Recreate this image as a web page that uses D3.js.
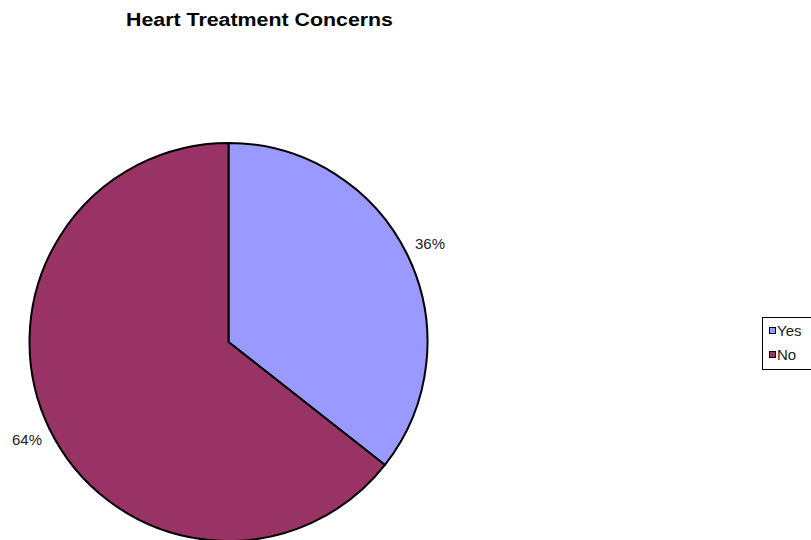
<!DOCTYPE html>
<html><head><meta charset="utf-8">
<script src="https://cdn.jsdelivr.net/npm/d3@7"></script>
<style>body{margin:0;background:#fff;}svg{display:block;font-family:"Liberation Sans",Arial,sans-serif;}</style>
</head><body>
<svg id="chart" width="811" height="540"></svg>
<script>
const title = "Heart Treatment Concerns";
const categories = ["Yes", "No"];
const values = [35.6, 64.4];
const colors = ["#9999FF", "#993366"];

const svg = d3.select("#chart");
const cx = 228.5, cy = 342, r = 199, labelR = 224;

svg.append("text").attr("x", 126).attr("y", 26)
  .attr("font-size", 18).attr("font-weight", "bold")
  .attr("textLength", 267).attr("lengthAdjust", "spacingAndGlyphs").text(title);

const data = categories.map((c, i) => ({cat: c, value: values[i], color: colors[i]}));
const pie = d3.pie().value(d => d.value).sort(null);
const arcs = pie(data);
const total = d3.sum(values);
const arc = d3.arc().innerRadius(0).outerRadius(r);
const labelArc = d3.arc().innerRadius(labelR).outerRadius(labelR);

const g = svg.append("g").attr("transform", `translate(${cx},${cy})`);
g.selectAll("path").data(arcs).join("path")
  .attr("d", arc).attr("fill", d => d.data.color)
  .attr("stroke", "#000").attr("stroke-width", 2).attr("stroke-linejoin", "round");

g.selectAll("text.lbl").data(arcs).join("text").attr("class", "lbl")
  .attr("transform", d => `translate(${labelArc.centroid(d)})`)
  .attr("text-anchor", "middle").attr("dy", "0.35em").attr("font-size", 15)
  .attr("fill", "#222")
  .text(d => Math.round(d.data.value / total * 100) + "%");

const lg = svg.append("g").attr("transform", "translate(762,317)");
lg.append("rect").attr("x", 0.5).attr("y", 0.5).attr("width", 60).attr("height", 52)
  .attr("fill", "#fff").attr("stroke", "#000").attr("stroke-width", 1);
const items = lg.selectAll("g.item").data(data).join("g").attr("class", "item")
  .attr("transform", (d, i) => `translate(7,${14 + i * 24})`);
items.append("rect").attr("x", 0.5).attr("y", -3.5).attr("width", 6).attr("height", 6)
  .attr("fill", d => d.color).attr("stroke", "#000").attr("stroke-width", 1);
items.append("text").attr("x", 8).attr("y", 0).attr("dy", "0.35em").attr("font-size", 15)
  .attr("fill", "#222").text(d => d.cat);
</script>
</body></html>
